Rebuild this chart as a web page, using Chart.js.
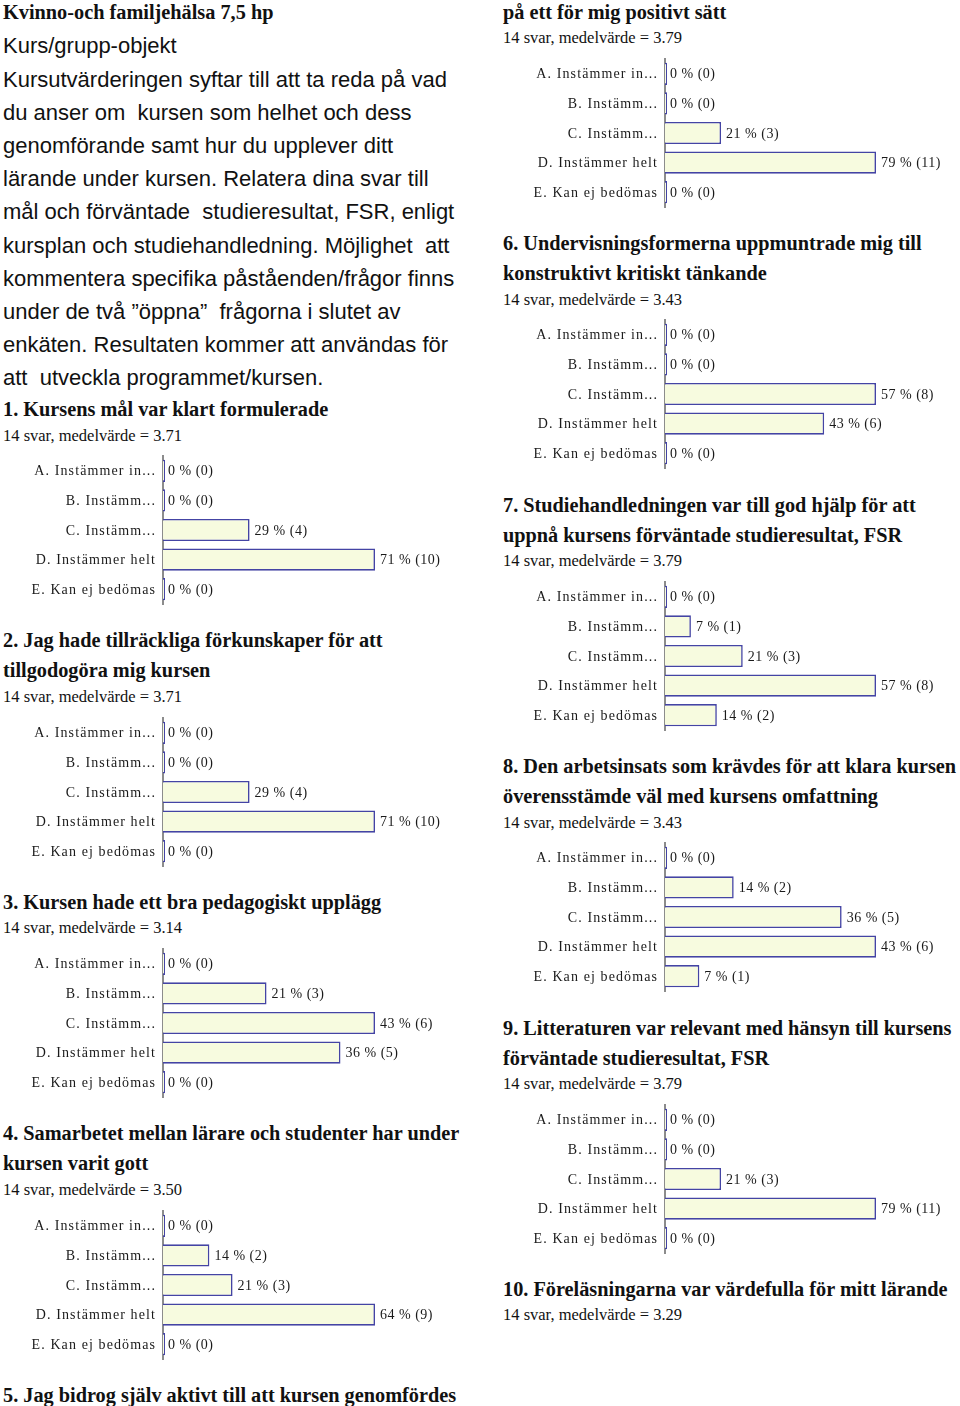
<!DOCTYPE html>
<html>
<head>
<meta charset="utf-8">
<script src="https://cdn.jsdelivr.net/npm/chart.js@4"></script>
<style>
body { margin: 0; background: #fff; width: 960px; height: 1406px; position: relative; overflow: hidden; color: #111; }
.t { position: absolute; white-space: pre; font-family: "Liberation Serif", "Times New Roman", serif; }
.h { font-weight: bold; font-size: 20.3px; line-height: 30px; }
.s { font-size: 16.5px; line-height: 20px; }
.intro { font-family: "Liberation Sans", Arial, sans-serif; font-size: 22px; line-height: 33.2px; }
canvas { position: absolute; }
</style>
</head>
<body>
<div class="t h" style="left:3px;top:-3px">Kvinno-och familjehälsa 7,5 hp</div>
<div class="t intro" style="left:3px;top:29.4px">Kurs/grupp-objekt
Kursutvärderingen syftar till att ta reda på vad
du anser om  kursen som helhet och dess
genomförande samt hur du upplever ditt
lärande under kursen. Relatera dina svar till
mål och förväntade  studieresultat, FSR, enligt
kursplan och studiehandledning. Möjlighet  att
kommentera specifika påståenden/frågor finns
under de två ”öppna”  frågorna i slutet av
enkäten. Resultaten kommer att användas för
att  utveckla programmet/kursen.</div>

<div class="t h" style="left:3px;top:394px">1. Kursens mål var klart formulerade</div>
<div class="t s" style="left:3px;top:426px">14 svar, medelvärde = 3.71</div>

<div class="t h" style="left:3px;top:625px">2. Jag hade tillräckliga förkunskaper för att
tillgodogöra mig kursen</div>
<div class="t s" style="left:3px;top:687px">14 svar, medelvärde = 3.71</div>

<div class="t h" style="left:3px;top:887px">3. Kursen hade ett bra pedagogiskt upplägg</div>
<div class="t s" style="left:3px;top:918px">14 svar, medelvärde = 3.14</div>

<div class="t h" style="left:3px;top:1118px">4. Samarbetet mellan lärare och studenter har under
kursen varit gott</div>
<div class="t s" style="left:3px;top:1180px">14 svar, medelvärde = 3.50</div>

<div class="t h" style="left:3px;top:1380px">5. Jag bidrog själv aktivt till att kursen genomfördes</div>

<div class="t h" style="left:503px;top:-3px">på ett för mig positivt sätt</div>
<div class="t s" style="left:503px;top:28px">14 svar, medelvärde = 3.79</div>

<div class="t h" style="left:503px;top:228px">6. Undervisningsformerna uppmuntrade mig till
konstruktivt kritiskt tänkande</div>
<div class="t s" style="left:503px;top:290px">14 svar, medelvärde = 3.43</div>

<div class="t h" style="left:503px;top:490px">7. Studiehandledningen var till god hjälp för att
uppnå kursens förväntade studieresultat, FSR</div>
<div class="t s" style="left:503px;top:551px">14 svar, medelvärde = 3.79</div>

<div class="t h" style="left:503px;top:751px">8. Den arbetsinsats som krävdes för att klara kursen
överensstämde väl med kursens omfattning</div>
<div class="t s" style="left:503px;top:813px">14 svar, medelvärde = 3.43</div>

<div class="t h" style="left:503px;top:1013px">9. Litteraturen var relevant med hänsyn till kursens
förväntade studieresultat, FSR</div>
<div class="t s" style="left:503px;top:1074px">14 svar, medelvärde = 3.79</div>

<div class="t h" style="left:503px;top:1274px">10. Föreläsningarna var värdefulla för mitt lärande</div>
<div class="t s" style="left:503px;top:1305px">14 svar, medelvärde = 3.29</div>

<script>
var categories = ['A. Instämmer in...', 'B. Instämm...', 'C. Instämm...', 'D. Instämmer helt', 'E. Kan ej bedömas'];

var q1Percent = [0, 0, 29, 71, 0];
var q1Count = [0, 0, 4, 10, 0];
var q2Percent = [0, 0, 29, 71, 0];
var q2Count = [0, 0, 4, 10, 0];
var q3Percent = [0, 21, 43, 36, 0];
var q3Count = [0, 3, 6, 5, 0];
var q4Percent = [0, 14, 21, 64, 0];
var q4Count = [0, 2, 3, 9, 0];
var q5Percent = [0, 0, 21, 79, 0];
var q5Count = [0, 0, 3, 11, 0];
var q6Percent = [0, 0, 57, 43, 0];
var q6Count = [0, 0, 8, 6, 0];
var q7Percent = [0, 7, 21, 57, 14];
var q7Count = [0, 1, 3, 8, 2];
var q8Percent = [0, 14, 36, 43, 7];
var q8Count = [0, 2, 5, 6, 1];
var q9Percent = [0, 0, 21, 79, 0];
var q9Count = [0, 0, 3, 11, 0];

// draws the category names left of the axis and "x % (n)" after each bar
var labelPlugin = {
    id: 'barLabels',
    afterDatasetsDraw: function(chart) {
        var ctx = chart.ctx;
        var area = chart.chartArea;
        var yScale = chart.scales.y;
        var meta = chart.getDatasetMeta(0);
        var counts = chart.options.plugins.barLabels.counts;
        ctx.save();
        ctx.fillStyle = '#1a1a1a';
        ctx.textBaseline = 'middle';
        ctx.font = '14px "Liberation Serif"';
        ctx.letterSpacing = '1.1px';
        ctx.textAlign = 'right';
        chart.data.labels.forEach(function(lab, i) {
            ctx.fillText(lab, area.left - 7, yScale.getPixelForValue(i) + 1);
        });
        ctx.letterSpacing = '0.5px';
        ctx.textAlign = 'left';
        meta.data.forEach(function(bar, i) {
            var v = chart.data.datasets[0].data[i];
            var x = v > 0 ? bar.x + 5 : area.left + 5;
            ctx.fillText(v + ' % (' + counts[i] + ')', x, bar.y + 1);
        });
        ctx.restore();
    }
};

function makeChart(left, firstBar, percent, count) {
    var canvas = document.createElement('canvas');
    var colRight = left === 0 ? 375 : 876;
    var axisX = left === 0 ? 163 : 665;
    var w = left === 0 ? 480 : 460;
    canvas.width = w;
    canvas.height = 160;
    canvas.style.left = left + 'px';
    canvas.style.top = (firstBar - 21) + 'px';
    document.body.appendChild(canvas);
    new Chart(canvas, {
        type: 'bar',
        data: {
            labels: categories,
            datasets: [{
                data: percent,
                backgroundColor: '#f7fbdf',
                borderColor: '#4444a4',
                borderWidth: 1.6,
                barPercentage: 0.75,
                categoryPercentage: 1,
                minBarLength: 2
            }]
        },
        options: {
            indexAxis: 'y',
            responsive: false,
            animation: false,
            devicePixelRatio: 1,
            layout: { padding: { left: axisX - left, right: left + w - colRight, top: 6, bottom: 6 } },
            plugins: {
                legend: { display: false },
                tooltip: { enabled: false },
                barLabels: { counts: count }
            },
            scales: {
                x: { display: false, min: 0, max: Math.max.apply(null, percent) },
                y: {
                    ticks: { display: false },
                    grid: { display: false, drawTicks: false },
                    border: { color: '#8c8c8c', width: 2 }
                }
            }
        },
        plugins: [labelPlugin]
    });
}

makeChart(0, 471, q1Percent, q1Count);
makeChart(0, 733, q2Percent, q2Count);
makeChart(0, 964, q3Percent, q3Count);
makeChart(0, 1226, q4Percent, q4Count);
makeChart(500, 74, q5Percent, q5Count);
makeChart(500, 335, q6Percent, q6Count);
makeChart(500, 597, q7Percent, q7Count);
makeChart(500, 858, q8Percent, q8Count);
makeChart(500, 1120, q9Percent, q9Count);
</script>
</body>
</html>
